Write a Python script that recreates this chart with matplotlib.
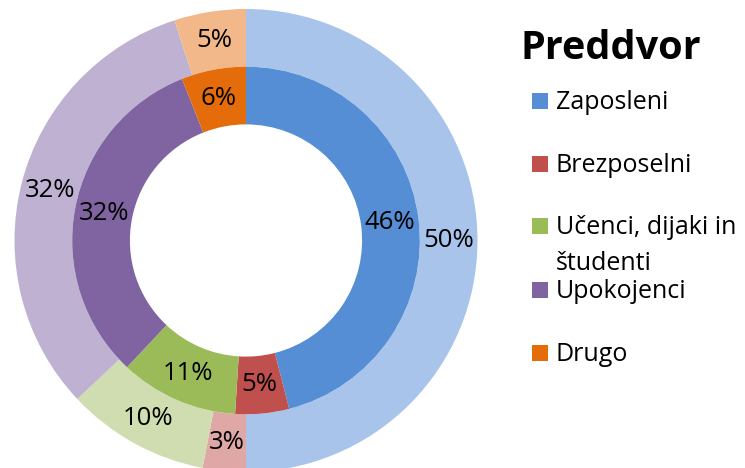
import matplotlib
matplotlib.use("Agg")
import matplotlib.pyplot as plt
from matplotlib.patches import Rectangle

plt.rcParams['font.family'] = ['Open Sans', 'DejaVu Sans']

title = "Preddvor"
categories = ["Zaposleni", "Brezposelni", "Učenci, dijaki in\nštudenti", "Upokojenci", "Drugo"]
outer_values = [50, 3, 10, 32, 5]
inner_values = [46, 5, 11, 32, 6]
inner_colors = ['#558ED5', '#C0504D', '#9BBB59', '#8064A2', '#E46C0A']
outer_colors = ['#A9C4EB', '#DFA7A6', '#CFDDB0', '#BFB1D1', '#F3B88A']

W, H = 745, 468
fig = plt.figure(figsize=(W / 100, H / 100), dpi=100)
cx, cy, R = 246.0, 240.5, 231.5
ax = fig.add_axes([(cx - R) / W, (H - cy - R) / H, 2 * R / W, 2 * R / H])

r_outer = 1.0
ring_w = 57.7 / R
r_inner = r_outer - ring_w

fmt = lambda p: f"{round(p)}%"
ax.pie(outer_values, radius=r_outer, colors=outer_colors, startangle=90, counterclock=False,
       wedgeprops=dict(width=ring_w, linewidth=0), autopct=fmt,
       pctdistance=1 - ring_w / 2, textprops=dict(fontsize=18.5, color='black'))
ax.pie(inner_values, radius=r_inner, colors=inner_colors, startangle=90, counterclock=False,
       wedgeprops=dict(width=ring_w, linewidth=0), autopct=fmt,
       pctdistance=(r_inner - ring_w / 2) / r_inner, textprops=dict(fontsize=18.5, color='black'))
ax.set_xlim(-1, 1)
ax.set_ylim(-1, 1)
ax.set_aspect('auto')
ax.axis('off')

# Title
fig.text(611 / W, 1 - 59 / H, title, fontsize=28.5, fontweight='bold', ha='center', va='baseline')

# Legend
sq_x, sq_size = 532, 16
text_x = 556
baselines = [109, 172, 234, 298, 361]
line_gap = 36
for lab, col, bl in zip(categories, inner_colors, baselines):
    fig.add_artist(Rectangle((sq_x / W, 1 - bl / H), sq_size / W, sq_size / H,
                             transform=fig.transFigure, facecolor=col, edgecolor='none'))
    for i, line in enumerate(lab.split("\n")):
        fig.text(text_x / W, 1 - (bl + i * line_gap) / H, line, fontsize=18,
                 ha='left', va='baseline')

fig.savefig("out.png", dpi=100)
